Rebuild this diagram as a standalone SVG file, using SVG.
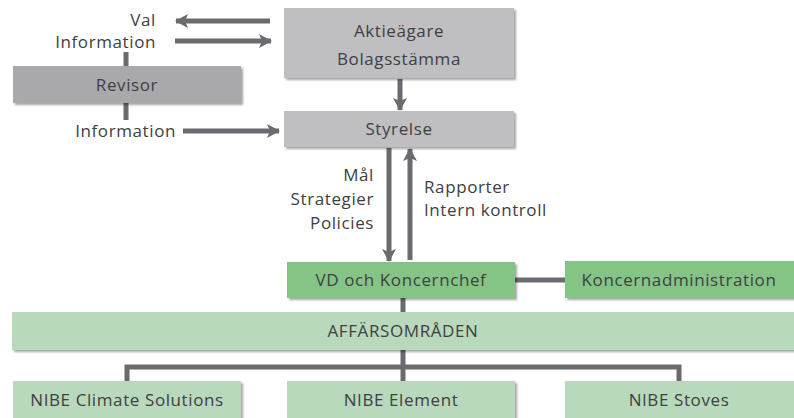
<svg xmlns="http://www.w3.org/2000/svg" width="794" height="418" viewBox="0 0 794 418">
  <style>
    .box-grey { fill: #bfbfc2; }
    .box-dark { fill: #a9a9ac; }
    .box-green { fill: #84c586; }
    .box-light { fill: #b9d9bd; }
    text { font-family: "Open Sans", "Noto Sans", sans-serif; font-size: 17px; letter-spacing: 0.6px; fill: #404043; }
    .c { text-anchor: middle; }
    .r { text-anchor: end; }
    .line { stroke: #6b6b6f; stroke-width: 5; fill: none; }
  </style>
  <defs>
    <filter id="shadow" x="-5%" y="-10%" width="115%" height="140%">
      <feDropShadow dx="2" dy="2" stdDeviation="1.2" flood-color="#000" flood-opacity="0.35"/>
    </filter>
    <marker id="head" viewBox="0 0 13 14" refX="12" refY="7" markerWidth="13" markerHeight="14" markerUnits="userSpaceOnUse" orient="auto">
      <path d="M0,0 L13,7 L0,14 L3,7 Z" fill="#6b6b6f"/>
    </marker>
  </defs>

  <!-- connectors -->
  <g id="connectors">
    <line class="line" x1="270" y1="21" x2="176" y2="21" marker-end="url(#head)"/>
    <line class="line" x1="175" y1="41" x2="271" y2="41" marker-end="url(#head)"/>
    <line class="line" x1="183" y1="131" x2="279" y2="131" marker-end="url(#head)"/>
    <line class="line" x1="126" y1="52" x2="126" y2="66"/>
    <line class="line" x1="126" y1="103" x2="126" y2="120"/>
    <line class="line" x1="400" y1="79" x2="400" y2="110" stroke-width="6" marker-end="url(#head)"/>
    <line class="line" x1="389" y1="148" x2="389" y2="261" marker-end="url(#head)"/>
    <line class="line" x1="410" y1="260" x2="410" y2="149" marker-end="url(#head)"/>
    <line class="line" x1="515" y1="280" x2="566" y2="280"/>
    <line class="line" x1="403" y1="298" x2="403" y2="381"/>
    <polyline class="line" points="127,381 127,367 679,367 679,381"/>
  </g>

  <g id="aktieagare">
    <rect class="box-grey" x="284" y="8" width="230" height="70" filter="url(#shadow)"/>
    <text class="c" x="399" y="37">Aktieägare</text>
    <text class="c" x="399" y="65">Bolagsstämma</text>
  </g>

  <g id="revisor">
    <rect class="box-dark" x="13" y="66" width="228" height="37" filter="url(#shadow)"/>
    <text class="c" x="127" y="91">Revisor</text>
  </g>

  <g id="styrelse">
    <rect class="box-grey" x="284" y="111" width="230" height="36" filter="url(#shadow)"/>
    <text class="c" x="399" y="135">Styrelse</text>
  </g>

  <g id="labels">
    <text class="r" x="156" y="26">Val</text>
    <text class="r" x="156" y="48">Information</text>
    <text class="r" x="176" y="137">Information</text>
    <text class="r" x="374" y="181">Mål</text>
    <text class="r" x="374" y="205">Strategier</text>
    <text class="r" x="374" y="229">Policies</text>
    <text x="424" y="193">Rapporter</text>
    <text x="424" y="216">Intern kontroll</text>
  </g>

  <g id="vd">
    <rect class="box-green" x="287" y="262" width="228" height="36" filter="url(#shadow)"/>
    <text class="c" x="401" y="286">VD och Koncernchef</text>
  </g>

  <g id="koncernadministration">
    <rect class="box-green" x="565" y="261" width="229" height="37" filter="url(#shadow)"/>
    <text class="c" x="679" y="286">Koncernadministration</text>
  </g>

  <g id="affarsomraden">
    <rect class="box-light" x="12" y="312" width="782" height="38" filter="url(#shadow)"/>
    <text class="c" x="403" y="337">AFFÄRSOMRÅDEN</text>
  </g>

  <g id="climate-solutions">
    <rect class="box-light" x="13" y="381" width="228" height="40" filter="url(#shadow)"/>
    <text class="c" x="127" y="406">NIBE Climate Solutions</text>
  </g>

  <g id="element">
    <rect class="box-light" x="287" y="381" width="228" height="40" filter="url(#shadow)"/>
    <text class="c" x="401" y="406">NIBE Element</text>
  </g>

  <g id="stoves">
    <rect class="box-light" x="565" y="381" width="229" height="40" filter="url(#shadow)"/>
    <text class="c" x="679" y="406">NIBE Stoves</text>
  </g>
</svg>
